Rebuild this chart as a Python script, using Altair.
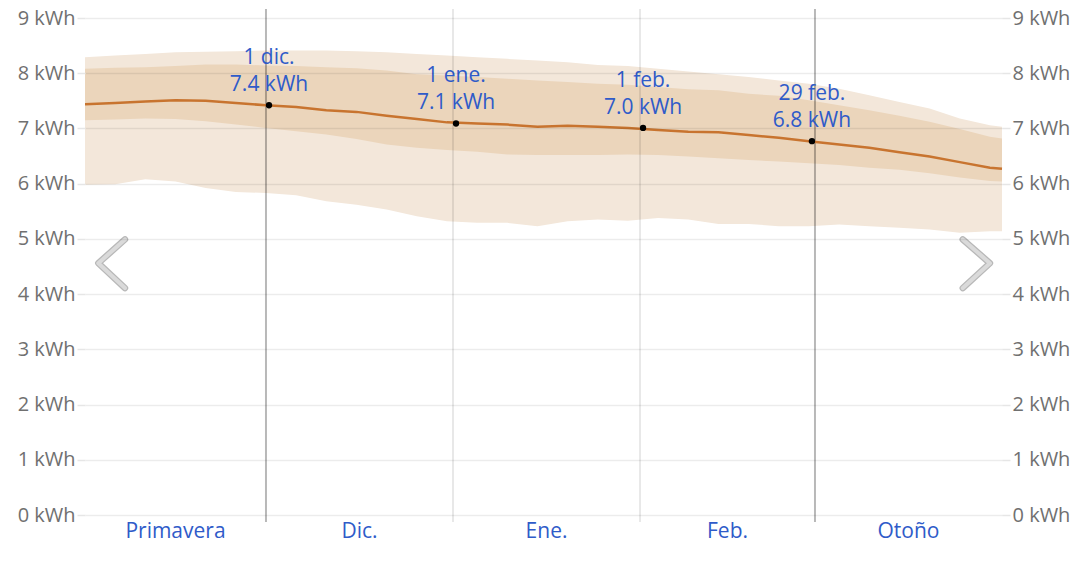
import altair as alt
import pandas as pd

# ---- data ----
dates = ["2023-11-01", "2023-11-06", "2023-11-11", "2023-11-16", "2023-11-21", "2023-11-26",
         "2023-12-01", "2023-12-06", "2023-12-11", "2023-12-16", "2023-12-21", "2023-12-26",
         "2023-12-31", "2024-01-05", "2024-01-10", "2024-01-15", "2024-01-20", "2024-01-25",
         "2024-01-30", "2024-02-04", "2024-02-09", "2024-02-14", "2024-02-19", "2024-02-24",
         "2024-02-29", "2024-03-05", "2024-03-10", "2024-03-15", "2024-03-20", "2024-03-25",
         "2024-03-30", "2024-04-01"]
p90 = [8.29, 8.32, 8.35, 8.38, 8.39, 8.40, 8.41, 8.41, 8.41, 8.40, 8.38, 8.35,
       8.32, 8.29, 8.26, 8.23, 8.20, 8.15, 8.13, 8.08, 8.03, 7.98, 7.93, 7.87,
       7.81, 7.72, 7.60, 7.48, 7.36, 7.18, 7.06, 7.03]
p75 = [8.08, 8.10, 8.11, 8.13, 8.16, 8.16, 8.14, 8.13, 8.11, 8.09, 8.05, 7.98,
       7.96, 7.93, 7.90, 7.87, 7.84, 7.81, 7.79, 7.75, 7.71, 7.69, 7.63, 7.59,
       7.51, 7.42, 7.33, 7.23, 7.12, 6.99, 6.85, 6.82]
p50 = [7.44, 7.46, 7.49, 7.51, 7.50, 7.46, 7.42, 7.39, 7.33, 7.30, 7.23, 7.17,
       7.11, 7.09, 7.07, 7.03, 7.05, 7.03, 7.01, 6.97, 6.94, 6.93, 6.88, 6.83,
       6.77, 6.71, 6.65, 6.57, 6.49, 6.39, 6.29, 6.27]
p25 = [7.15, 7.16, 7.18, 7.17, 7.13, 7.07, 7.01, 6.95, 6.89, 6.81, 6.71, 6.65,
       6.61, 6.58, 6.53, 6.52, 6.52, 6.52, 6.53, 6.52, 6.49, 6.46, 6.43, 6.40,
       6.37, 6.34, 6.29, 6.25, 6.19, 6.11, 6.05, 6.04]
p10 = [5.98, 5.99, 6.08, 6.04, 5.92, 5.85, 5.83, 5.79, 5.68, 5.62, 5.53, 5.41,
       5.32, 5.29, 5.29, 5.23, 5.32, 5.35, 5.33, 5.38, 5.35, 5.27, 5.27, 5.23,
       5.23, 5.26, 5.23, 5.20, 5.17, 5.11, 5.14, 5.14]

ann_dates = ["2023-12-01T12:00:00Z", "2024-01-01T12:00:00Z",
             "2024-02-01T12:00:00Z", "2024-02-29T12:00:00Z"]
ann_days = ["1 dic.", "1 ene.", "1 feb.", "29 feb."]
ann_values = [7.42, 7.09, 7.01, 6.77]

strong_lines = ["2023-12-01", "2024-03-01"]
light_lines = ["2024-01-01", "2024-02-01"]

month_mid = ["2023-11-16T00:00:00Z", "2023-12-16T12:00:00Z", "2024-01-16T12:00:00Z",
             "2024-02-15T12:00:00Z", "2024-03-16T12:00:00Z"]
month_names = ["Primavera", "Dic.", "Ene.", "Feb.", "Otoño"]

y_ticks = [0, 1, 2, 3, 4, 5, 6, 7, 8, 9]

# navigation chevrons (decoration)
chev_left_t = ["2023-11-07T15:00:00Z", "2023-11-03T05:00:00Z", "2023-11-07T15:00:00Z"]
chev_left_v = [4.99, 4.56, 4.11]
chev_right_t = ["2024-03-25T12:00:00Z", "2024-03-30T00:00:00Z", "2024-03-25T12:00:00Z"]
chev_right_v = [4.99, 4.56, 4.11]

# ---- tables ----
df = pd.DataFrame({"date": dates, "p10": p10, "p25": p25, "p50": p50, "p75": p75, "p90": p90})
ann = pd.DataFrame({"date": ann_dates, "v": ann_values,
                    "label": [f"{d}\n{v:.1f} kWh" for d, v in zip(ann_days, ann_values)]})
strong_df = pd.DataFrame({"date": strong_lines})
light_df = pd.DataFrame({"date": light_lines})
months_df = pd.DataFrame({"date": month_mid, "name": month_names})
chev_l = pd.DataFrame({"date": chev_left_t, "v": chev_left_v, "o": [0, 1, 2]})
chev_r = pd.DataFrame({"date": chev_right_t, "v": chev_right_v, "o": [0, 1, 2]})

FONT = "Open Sans"
BLUE = "#2f5bc9"

xscale = alt.Scale(domain=[alt.DateTime(year=2023, month=11, date=1, utc=True),
                           alt.DateTime(year=2024, month=4, date=1, utc=True)])
yscale = alt.Scale(domain=[0, 9], nice=False)

def X():
    return alt.X("date:T", scale=xscale, axis=None)

left_axis = alt.Axis(orient="left", values=y_ticks, labelExpr="datum.value + ' kWh'",
                     domain=False, tickSize=8, tickColor="#e6e6e6", tickWidth=1.5,
                     grid=True, gridColor="#000000", gridOpacity=0.075, gridWidth=1.5,
                     labelFont=FONT, labelFontSize=20, labelColor="#707070",
                     labelPadding=2, title=None, zindex=1)
right_axis = alt.Axis(orient="right", values=y_ticks, labelExpr="datum.value + ' kWh'",
                      domain=False, tickSize=8, tickColor="#e6e6e6", tickWidth=1.5,
                      grid=False, labelFont=FONT, labelFontSize=20, labelColor="#707070",
                      labelPadding=2, title=None)

outer = alt.Chart(df).mark_area(color="#f3e7da").encode(
    x=X(), y=alt.Y("p10:Q", scale=yscale, axis=left_axis), y2="p90:Q")
inner = alt.Chart(df).mark_area(color="#ebd5bb").encode(
    x=X(), y=alt.Y("p25:Q", scale=yscale, axis=None), y2="p75:Q")

rules_strong = alt.Chart(strong_df).mark_rule(color="#000000", opacity=0.28, strokeWidth=2).encode(
    x=X(), y=alt.value(-9), y2=alt.value(504))
rules_light = alt.Chart(light_df).mark_rule(color="#000000", opacity=0.12, strokeWidth=1.5).encode(
    x=X(), y=alt.value(-9), y2=alt.value(504))

median = alt.Chart(df).mark_line(color="#c8742f", strokeWidth=2.5).encode(
    x=X(), y=alt.Y("p50:Q", scale=yscale, axis=right_axis))

dots = alt.Chart(ann).mark_point(filled=True, color="#000000", size=40, opacity=1).encode(
    x=X(), y=alt.Y("v:Q", scale=yscale, axis=None))

ann_labels = alt.Chart(ann).mark_text(font=FONT, fontSize=21, lineBreak="\n", lineHeight=27,
                                      baseline="middle", dy=-47, align="center",
                                      color=BLUE).encode(
    x=X(), y=alt.Y("v:Q", scale=yscale, axis=None), text="label:N")

months = alt.Chart(months_df).mark_text(font=FONT, fontSize=21, color=BLUE, baseline="middle",
                                        align="center").encode(
    x=X(), y=alt.value(514), text="name:N")

def chevron(d):
    edge = alt.Chart(d).mark_line(color="#b8b8b8", strokeWidth=6.5, strokeCap="round",
                                  strokeJoin="round").encode(
        x=X(), y=alt.Y("v:Q", scale=yscale, axis=None), order="o:Q")
    fill = alt.Chart(d).mark_line(color="#dadada", strokeWidth=4, strokeCap="round",
                                  strokeJoin="round").encode(
        x=X(), y=alt.Y("v:Q", scale=yscale, axis=None), order="o:Q")
    return [edge, fill]

chart = alt.layer(
    outer, inner, rules_strong, rules_light, median, dots, ann_labels, months,
    *chevron(chev_l), *chevron(chev_r)
).resolve_axis(y="independent").resolve_scale(y="shared").properties(
    width=917, height=497,
    autosize=alt.AutoSizeParams(type="none"),
    padding={"left": 77, "top": 10, "right": 70, "bottom": 40},
).configure_view(stroke=None)

chart.save("out.html", embed_options={"renderer": "svg", "actions": False})
